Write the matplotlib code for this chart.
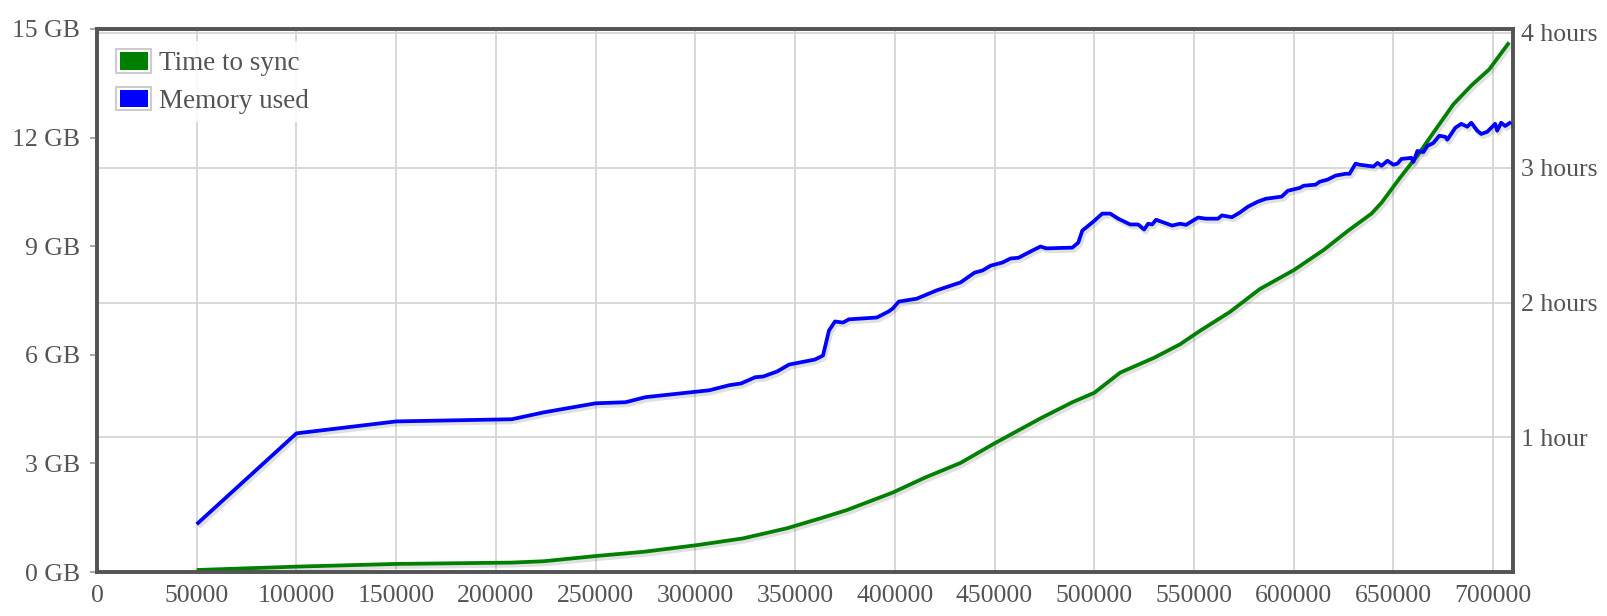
import matplotlib.pyplot as plt
import matplotlib.patheffects as pe
from matplotlib.legend_handler import HandlerBase
from matplotlib.patches import Rectangle, Patch

# block height -> memory used (GB)
mem_blocks = [50000, 100000, 150000, 208000, 224000, 250000, 265000, 275000, 307000, 317000,
              323000, 330000, 334000, 341000, 347000, 360000, 364000, 367000, 370000, 374000,
              377000, 391000, 397000, 399000, 402000, 411000, 421000, 433000, 440000, 444000,
              448000, 454000, 458000, 462000, 469000, 473000, 476000, 489000, 492000, 494000,
              500000, 504000, 508000, 512000, 518000, 522000, 525000, 527000, 529000, 531000,
              539000, 543000, 546000, 552000, 556000, 562000, 564000, 569000, 573000, 577000,
              582000, 586000, 594000, 597000, 603000, 605000, 611000, 613000, 617000, 621000,
              626000, 628000, 631000, 633000, 640000, 642000, 644000, 647000, 650000, 652000,
              654000, 659000, 660000, 662000, 665000, 667000, 670000, 673000, 676000, 677000,
              681000, 684000, 687000, 689000, 692000, 694000, 697000, 701000, 702000, 704000,
              706000, 709000]
mem_gb = [1.32, 3.83, 4.16, 4.22, 4.41, 4.66, 4.69, 4.83, 5.02, 5.16,
          5.21, 5.38, 5.40, 5.54, 5.73, 5.87, 5.98, 6.67, 6.92, 6.89,
          6.98, 7.03, 7.20, 7.28, 7.47, 7.55, 7.78, 8.00, 8.27, 8.33,
          8.46, 8.55, 8.66, 8.68, 8.88, 8.99, 8.94, 8.96, 9.10, 9.43,
          9.70, 9.90, 9.90, 9.76, 9.60, 9.60, 9.46, 9.62, 9.60, 9.73,
          9.57, 9.62, 9.59, 9.79, 9.76, 9.76, 9.85, 9.80, 9.93, 10.09,
          10.23, 10.31, 10.37, 10.53, 10.61, 10.67, 10.70, 10.78, 10.84, 10.95,
          11.00, 11.00, 11.28, 11.25, 11.20, 11.30, 11.22, 11.36, 11.25, 11.28,
          11.41, 11.44, 11.33, 11.63, 11.60, 11.77, 11.85, 12.05, 12.02, 11.94,
          12.27, 12.38, 12.30, 12.41, 12.19, 12.10, 12.16, 12.38, 12.19, 12.41,
          12.32, 12.43]

# block height -> time to sync (hours)
time_blocks = [50000, 100000, 150000, 208000, 224000, 251000, 274000, 301000, 324000, 346000,
               363000, 376000, 399000, 415000, 433000, 450000, 473000, 489000, 500000, 513000,
               530000, 543000, 553000, 568000, 583000, 600000, 615000, 627000, 639000, 644000,
               653000, 662000, 670000, 680000, 689000, 698000, 708000]
time_hours = [0.015, 0.04, 0.06, 0.07, 0.08, 0.12, 0.15, 0.20, 0.25, 0.325,
              0.40, 0.46, 0.59, 0.70, 0.81, 0.955, 1.14, 1.26, 1.33, 1.48,
              1.59, 1.69, 1.79, 1.93, 2.10, 2.24, 2.39, 2.53, 2.66, 2.74,
              2.92, 3.09, 3.26, 3.47, 3.61, 3.73, 3.93]

x_ticks = list(range(0, 700001, 50000))
gb_ticks = [0, 3, 6, 9, 12, 15]
gb_labels = ["0 GB", "3 GB", "6 GB", "9 GB", "12 GB", "15 GB"]
hour_ticks = [1, 2, 3, 4]
hour_labels = ["1 hour", "2 hours", "3 hours", "4 hours"]

TXT = "#545454"
GRID = "#d6d6d6"
plt.rcParams['font.family'] = ['Liberation Serif', 'DejaVu Serif']
plt.rcParams['font.size'] = 18.5

fig = plt.figure(figsize=(16.08, 6.16), dpi=100)
ax_mem = fig.add_axes([0.0603, 0.0714, 0.8807, 0.8816])
ax_time = ax_mem.twinx()
ax_time.set_zorder(0)
ax_mem.set_zorder(1)
ax_mem.patch.set_visible(False)
ax_time.patch.set_visible(True)
ax_time.patch.set_facecolor("white")

shadow = [pe.SimpleLineShadow(offset=(1.2, -1.8), shadow_color="black", alpha=0.12, linewidth=3.6),
          pe.Normal()]

ax_time.plot(time_blocks, time_hours, color="green", lw=2.7, solid_capstyle="butt",
             path_effects=shadow, zorder=3)
ax_mem.plot(mem_blocks, mem_gb, color="blue", lw=2.7, solid_capstyle="butt",
            path_effects=shadow, zorder=3)

ax_mem.set_xlim(0, 710000)
ax_mem.set_ylim(0, 15)
ax_time.set_ylim(0, 4.03)

ax_mem.set_xticks(x_ticks)
ax_mem.set_xticklabels([str(v) for v in x_ticks])
ax_mem.set_yticks(gb_ticks)
ax_mem.set_yticklabels(gb_labels)
ax_time.set_yticks(hour_ticks)
ax_time.set_yticklabels(hour_labels)

# grid lives on the lower axes so it stays under the lines
ax_time.xaxis.set_visible(True)
ax_time.set_xticks(x_ticks)
ax_time.tick_params(axis="x", bottom=False, top=False, labelbottom=False, labeltop=False)
ax_time.grid(True, color=GRID, lw=1.3)
ax_time.set_axisbelow(True)

ax_mem.tick_params(axis="x", length=0, pad=9, colors=TXT, labelsize=18.5)
ax_mem.tick_params(axis="y", length=5, width=1.2, pad=7, colors=TXT, labelsize=18.5)
ax_time.tick_params(axis="y", length=0, pad=6, colors=TXT, labelsize=18.5)
ax_mem.tick_params(axis="y", color="#999999")

for ax in (ax_mem, ax_time):
    for s in ax.spines.values():
        s.set_color(TXT)
        s.set_linewidth(2.6)


class SwatchHandler(HandlerBase):
    def create_artists(self, legend, orig_handle, xdescent, ydescent, width, height, fontsize, trans):
        outer = Rectangle((-xdescent, -ydescent), width, height, facecolor="white",
                          edgecolor="#cccccc", lw=1.5, transform=trans)
        inner = Rectangle((-xdescent + 2.4, -ydescent + 2.4), width - 4.8, height - 4.8,
                          facecolor=orig_handle.get_facecolor(), edgecolor="none", transform=trans)
        return [outer, inner]


handles = [Patch(facecolor="green"), Patch(facecolor="blue")]
leg = ax_mem.legend(handles, ["Time to sync", "Memory used"], loc="upper left",
                    bbox_to_anchor=(0.008, 0.978), borderaxespad=0, borderpad=0.3,
                    handlelength=1.29, handleheight=0.98, handletextpad=0.3,
                    labelspacing=0.38, fontsize=19.5, frameon=True, fancybox=False,
                    framealpha=0.85, edgecolor="none", facecolor="white",
                    handler_map={Patch: SwatchHandler()})
for t in leg.get_texts():
    t.set_color(TXT)

fig.savefig("out.png", dpi=100)
